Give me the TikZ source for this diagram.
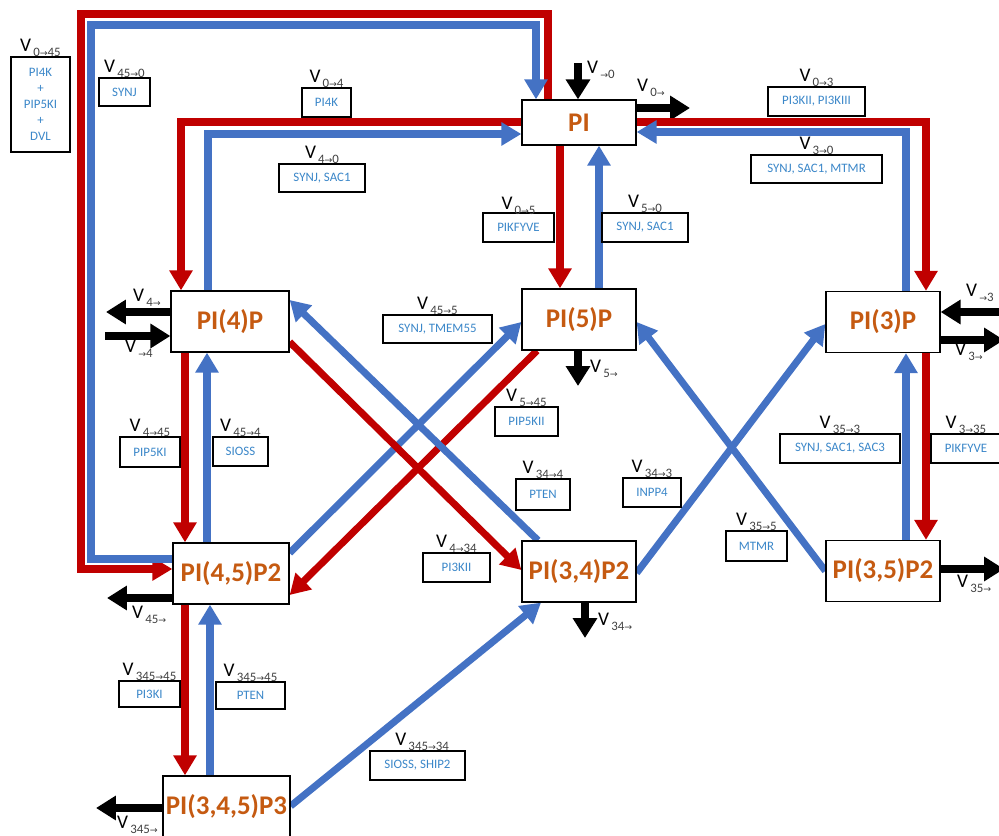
\documentclass[tikz,border=0pt]{standalone}
\usepackage{fontspec}
\setmainfont{Carlito}
\newfontfamily\fluxarrowfont{DejaVu Sans}
\usetikzlibrary{arrows.meta,positioning,backgrounds}
\definecolor{pip-orange}{HTML}{C55A11}
\definecolor{enz-blue}{HTML}{3B87C9}
\definecolor{kin-red}{HTML}{C00000}
\definecolor{pase-blue}{HTML}{4472C4}
\definecolor{flux-grey}{HTML}{404040}
\newcommand{\fto}{{\fluxarrowfont\fontsize{8}{8}\selectfont →}}
\newcommand{\vflux}[1]{{\fontsize{16.5}{16}\selectfont V}\hspace{1.8pt}{\fontsize{11}{10}\selectfont\color{flux-grey}\raisebox{-4pt}{#1}}}
\tikzset{
    pip-box/.style = {draw, fill=white, line width=1.1pt, inner sep=0pt, minimum height=1.83cm, minimum width=3.42cm, font=\fontsize{23}{24}\selectfont\bfseries, text=pip-orange},
    enz-box/.style = {draw, fill=white, line width=1.1pt, inner sep=2pt, minimum height=0.87cm, minimum width=#1*0.3mm, font=\fontsize{11}{13.6}\selectfont, text=enz-blue, align=center},
    v-label/.style = {inner sep=0pt},
    kinase/.style = {draw=kin-red, line width=6pt, -{Triangle[width=19pt,length=17pt]}},
    phosphatase/.style = {draw=pase-blue, line width=6pt, -{Triangle[width=19pt,length=17pt]}},
    flux/.style = {draw=black, line width=6.4pt, -{Triangle[width=20pt,length=17pt]}},
}
\begin{document}
\begin{tikzpicture}[x=0.3mm, y=-0.3mm]
\useasboundingbox (0,0) rectangle (999,836);

\node [pip-box, minimum height=1.35cm] (pi) at (579,122.5) {PI};
\node [pip-box] (pi5) at (579,319.5) {PI(5)P};
\node [pip-box, minimum width=3.54cm] (pi4) at (230,321.5) {PI(4)P};
\node [pip-box] (pi3) at (883,322) {PI(3)P};
\node [pip-box, minimum width=3.48cm] (pi45) at (231,573.5) {PI(4,5)P2};
\node [pip-box] (pi34) at (579,571.5) {PI(3,4)P2};
\node [pip-box] (pi35) at (883,571) {PI(3,5)P2};
\node [pip-box, minimum width=3.81cm] (pi345) at (226.5,806.5) {PI(3,4,5)P3};

\node [enz-box=59, minimum height=2.85cm] (e0to45) at (40.5,104.5) {PI4K\\+\\PIP5KI\\+\\DVL};
\node [enz-box=51, minimum height=0.84cm] (e45to0) at (124.5,92) {SYNJ};
\node [enz-box=49] (e0to4) at (326.5,102.5) {PI4K};
\node [enz-box=86, minimum height=0.84cm] (e4to0) at (322,178) {SYNJ, SAC1};
\node [enz-box=71] (e0to5) at (518.5,227.5) {PIKFYVE};
\node [enz-box=86] (e5to0) at (645,227.5) {SYNJ, SAC1};
\node [enz-box=97] (e0to3) at (816.5,101.5) {PI3KII, PI3KIII};
\node [enz-box=131, minimum height=0.84cm] (e3to0) at (816.5,169) {SYNJ, SAC1, MTMR};
\node [enz-box=109, minimum height=0.84cm] (e45to5) at (437.5,329) {SYNJ, TMEM55};
\node [enz-box=63] (e5to45) at (526.5,421.5) {PIP5KII};
\node [enz-box=60, minimum height=0.9cm] (e4to45) at (150,452) {PIP5KI};
\node [enz-box=55] (e45to4) at (240.5,451.5) {SIOSS};
\node [enz-box=54, minimum height=0.93cm] (e34to4) at (543,494.5) {PTEN};
\node [enz-box=58] (e34to3) at (652,492.5) {INPP4};
\node [enz-box=120] (e35to3) at (840,448.5) {SYNJ, SAC1, SAC3};
\node [enz-box=70] (e3to35) at (966,448.5) {PIKFYVE};
\node [enz-box=61, minimum height=0.9cm] (e35to5) at (756.5,546) {MTMR};
\node [enz-box=67] (e4to34) at (456.5,567.5) {PI3KII};
\node [enz-box=61, minimum height=0.78cm] (e345to45a) at (149.5,694) {PI3KI};
\node [enz-box=69, minimum height=0.81cm] (e345to45b) at (250.5,695.5) {PTEN};
\node [enz-box=95] (e345to34) at (417.5,765.5) {SIOSS, SHIP2};

\node [v-label, above=0pt of e0to45] (v0to45) {\vflux{0\fto45}};
\node [v-label, above=0pt of e45to0] (v45to0) {\vflux{45\fto0}};
\node [v-label, above=0pt of e0to4] (v0to4) {\vflux{0\fto4}};
\node [v-label, above=0pt of e4to0] (v4to0) {\vflux{4\fto0}};
\node [v-label, above=-2pt of e0to5] (v0to5) {\vflux{0\fto5}};
\node [v-label, above=0pt of e5to0] (v5to0) {\vflux{5\fto0}};
\node [v-label, above=0pt of e0to3] (v0to3) {\vflux{0\fto3}};
\node [v-label, above=0pt of e3to0] (v3to0) {\vflux{3\fto0}};
\node [v-label, above=0pt of e45to5] (v45to5) {\vflux{45\fto5}};
\node [v-label, above=0pt of e5to45] (v5to45) {\vflux{5\fto45}};
\node [v-label, above=0pt of e4to45] (v4to45) {\vflux{4\fto45}};
\node [v-label, above=0pt of e45to4] (v45to4) {\vflux{45\fto4}};
\node [v-label, above=0pt of e34to4] (v34to4) {\vflux{34\fto4}};
\node [v-label, above=0pt of e34to3] (v34to3) {\vflux{34\fto3}};
\node [v-label, above=0pt of e35to3] (v35to3) {\vflux{35\fto3}};
\node [v-label, above=0pt of e3to35] (v3to35) {\vflux{3\fto35}};
\node [v-label, above=0pt of e35to5] (v35to5) {\vflux{35\fto5}};
\node [v-label, above=0pt of e4to34] (v4to34) {\vflux{4\fto34}};
\node [v-label, above=0pt of e345to45a] (v345to45a) {\vflux{345\fto45}};
\node [v-label, above=0pt of e345to45b] (v345to45b) {\vflux{345\fto45}};
\node [v-label, above=0pt of e345to34, xshift=4pt] (v345to34) {\vflux{345\fto34}};

\node [v-label, anchor=west] (vin0) at (587,70) {\vflux{\fto0}};
\node [v-label, anchor=west] (vout0) at (637,88) {\vflux{0\fto}};
\node [v-label, anchor=west] (vout4) at (133,298) {\vflux{4\fto}};
\node [v-label, anchor=west] (vin4) at (125,349) {\vflux{\fto4}};
\node [v-label, anchor=west] (vout5) at (590,369) {\vflux{5\fto}};
\node [v-label, anchor=west] (vin3) at (966,293) {\vflux{\fto3}};
\node [v-label, anchor=west] (vout3) at (955,352) {\vflux{3\fto}};
\node [v-label, anchor=west] (vout35) at (957,584) {\vflux{35\fto}};
\node [v-label, anchor=west] (vout45) at (132,615) {\vflux{45\fto}};
\node [v-label, anchor=west] (vout34) at (598,622) {\vflux{34\fto}};
\node [v-label, anchor=west] (vout345) at (117,825) {\vflux{345\fto}};

\coordinate (in0) at (578,63);
\coordinate (out0) at (690,108);
\coordinate (out4) at (106,312);
\coordinate (in4) at (105,336);
\coordinate (out5) at (578,386);
\coordinate (in3) at (1002,312);
\coordinate (out3) at (1004,340);
\coordinate (out35) at (1004,569);
\coordinate (out45) at (107,598);
\coordinate (out34) at (585,638);
\coordinate (out345) at (96,808);

\begin{scope}[on background layer]
\draw [flux] (in0) -- (in0 |- pi.north);
\draw [flux] (pi.east |- out0) -- (out0);
\draw [flux] (pi4.west |- out4) -- (out4);
\draw [flux] (in4) -- (pi4.west |- in4);
\draw [flux] (pi5.south -| out5) -- (out5);
\draw [flux] (in3) -- (pi3.east |- in3);
\draw [flux] (pi3.east |- out3) -- (out3);
\draw [flux] (pi35.east |- out35) -- (out35);
\draw [flux] (pi45.west |- out45) -- (out45);
\draw [flux] (pi34.south -| out34) -- (out34);
\draw [flux] (pi345.west |- out345) -- (out345);

\draw [kinase] (pi.north -| 548,0) |- (81,14) |- (pi45.west |- 0,569);
\draw [phosphatase] (pi45.west |- 0,559) -| (91,25) -| (pi.north -| 536,0);
\draw [kinase] (pi.west |- 0,122) -| (pi4.north -| 181,0);
\draw [phosphatase] (pi4.north -| 208,0) |- (pi.west |- 0,134);
\draw [kinase] (pi.east |- 0,122) -| (pi3.north -| 926,0);
\draw [phosphatase] (pi3.north -| 906,0) |- (pi.east |- 0,132);

\draw [kinase] (pi.south -| 560,0) -- (pi5.north -| 560,0);
\draw [phosphatase] (pi5.north -| 599,0) -- (pi.south -| 599,0);
\draw [kinase] (pi4.south -| 185,0) -- (pi45.north -| 185,0);
\draw [phosphatase] (pi45.north -| 207,0) -- (pi4.south -| 207,0);
\draw [kinase] (pi45.south -| 185,0) -- (pi345.north -| 185,0);
\draw [phosphatase] (pi345.north -| 210,0) -- (pi45.south -| 210,0);
\draw [phosphatase] (pi35.north -| 906,0) -- (pi3.south -| 906,0);
\draw [kinase] (pi3.south -| 926,0) -- (pi35.north -| 926,0);

\draw [phosphatase] (pi45.east |- 0,553) -- (pi5.west |- 0,322);
\draw [kinase] (pi5.south -| 537,0) -- (pi45.east |- 0,595);
\draw [kinase] (pi4.east |- 0,342) -- (pi34.west |- 0,570);
\draw [phosphatase] (pi34.north -| 538,0) -- (pi4.east |- 0,300);
\draw [phosphatase] (pi34.east |- 0,573) -- (pi3.west |- 0,324);
\draw [phosphatase] (pi35.west |- 0,571) -- (pi5.east |- 0,322);
\draw [phosphatase] (pi345.east |- 0,806) -- (pi34.south -| 541,0);
\end{scope}
\end{tikzpicture}
\end{document}
